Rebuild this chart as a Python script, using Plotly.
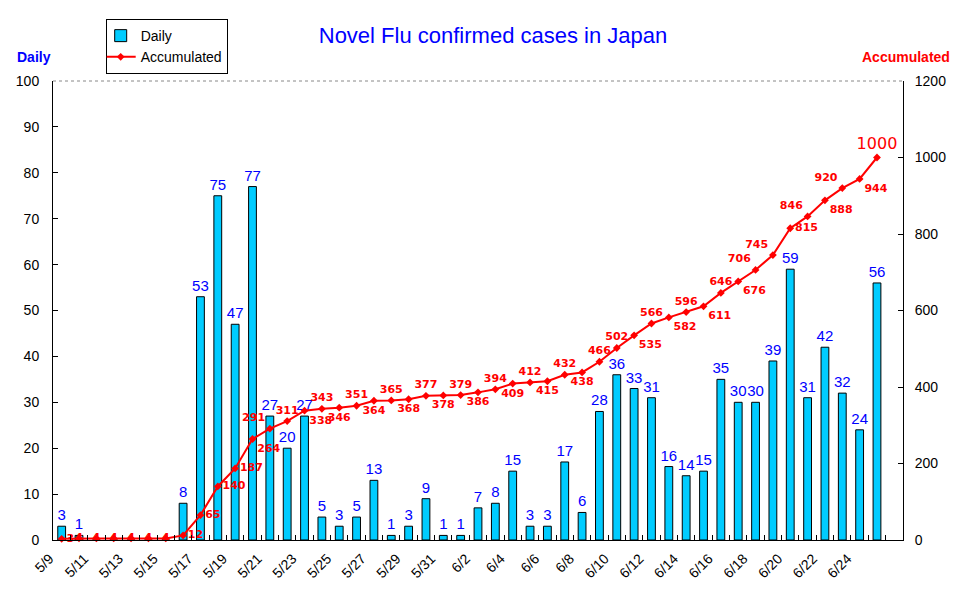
import plotly.graph_objects as go

dates = ["5/9", "5/10", "5/11", "5/12", "5/13", "5/14", "5/15", "5/16", "5/17", "5/18",
         "5/19", "5/20", "5/21", "5/22", "5/23", "5/24", "5/25", "5/26", "5/27", "5/28",
         "5/29", "5/30", "5/31", "6/1", "6/2", "6/3", "6/4", "6/5", "6/6", "6/7",
         "6/8", "6/9", "6/10", "6/11", "6/12", "6/13", "6/14", "6/15", "6/16", "6/17",
         "6/18", "6/19", "6/20", "6/21", "6/22", "6/23", "6/24", "6/25"]

daily = [3, 1, 0, 0, 0, 0, 0, 8, 53, 75,
         47, 77, 27, 20, 27, 5, 3, 5, 13, 1,
         3, 9, 1, 1, 7, 8, 15, 3, 3, 17,
         6, 28, 36, 33, 31, 16, 14, 15, 35, 30,
         30, 39, 59, 31, 42, 32, 24, 56]

accumulated = [3, 4, 4, 4, 4, 4, 4, 12, 65, 140,
               187, 264, 291, 311, 338, 343, 346, 351, 364, 365,
               368, 377, 378, 379, 386, 394, 409, 412, 415, 432,
               438, 466, 502, 535, 566, 582, 596, 611, 646, 676,
               706, 745, 815, 846, 888, 920, 944, 1000]

acc_pos = (["middle right"] + ["middle center"] * 6 +
           ["middle right", "middle right", "middle right", "middle right", "bottom right",
            "top left", "top center", "bottom right"] +
           ["top center", "bottom center"] * 8 +
           ["top center", "top center", "bottom right", "top center", "bottom right",
            "top center", "bottom right", "top center", "bottom right", "top left",
            "top left", "middle right", "top left", "bottom right", "top left",
            "bottom right", "top center"])

FONT = "Liberation Sans, Arial, sans-serif"

fig = go.Figure()
fig.add_trace(go.Bar(
    x=dates, y=daily, name="Daily",
    marker=dict(color="#00CCFF", line=dict(color="black", width=1)),
    width=0.45,
    text=[str(v) if v else "" for v in daily],
    textposition="outside",
    constraintext="none",
    textfont=dict(color="#0000FF", size=15, family=FONT),
    cliponaxis=False,
))
acc_sizes = [11] * (len(accumulated) - 1) + [16]
fig.add_trace(go.Scatter(
    x=dates, y=accumulated, name="Accumulated", yaxis="y2",
    mode="lines+markers+text",
    line=dict(color="#FF0000", width=2),
    marker=dict(symbol="diamond", size=6, color="#FF0000"),
    text=[str(v) for v in accumulated],
    textposition=acc_pos,
    textfont=dict(color="#FF0000", size=acc_sizes, family="DejaVu Sans, sans-serif",
                  weight=[700] * (len(accumulated) - 1) + [400]),
    cliponaxis=False,
))

fig.update_layout(
    width=970, height=604,
    margin=dict(l=45, r=75, t=73, b=72, autoexpand=False),
    paper_bgcolor="white", plot_bgcolor="white",
    font=dict(family=FONT, size=14, color="black"),
    showlegend=True,
    legend=dict(x=0.062, y=1.135, xanchor="left", yanchor="top",
                bordercolor="black", borderwidth=1, bgcolor="white",
                font=dict(size=14, family=FONT), tracegroupgap=0,
                itemwidth=30, indentation=-6),
    title=dict(text="Novel Flu confirmed cases in Japan", x=0.5, xanchor="center",
               y=0.955, yanchor="middle",
               font=dict(color="#0000FF", size=22, family=FONT)),
    xaxis=dict(
        type="category",
        range=[-0.5, 48.5],
        tickvals=dates,
        ticktext=[d if i % 2 == 0 else "" for i, d in enumerate(dates)],
        tickson="boundaries",
        ticks="inside", ticklen=5, tickcolor="black",
        tickangle=-45,
        ticklabelshift=-12,
        ticklabelstandoff=4,
        showline=True, linecolor="black", linewidth=1,
        showgrid=False, zeroline=False, automargin=False,
        tickfont=dict(size=14),
    ),
    yaxis=dict(
        range=[0, 100], dtick=10,
        ticks="inside", ticklen=5, tickcolor="black",
        showline=True, linecolor="black", linewidth=1,
        showgrid=False, zeroline=False, automargin=False,
        ticklabelstandoff=10,
        tickfont=dict(size=14),
    ),
    yaxis2=dict(
        range=[0, 1200], dtick=200, overlaying="y", side="right",
        ticks="inside", ticklen=5, tickcolor="black",
        showline=True, linecolor="black", linewidth=1,
        showgrid=False, zeroline=False, automargin=False,
        ticklabelstandoff=8,
        tickfont=dict(size=14),
    ),
    bargap=0.5,
    shapes=[dict(type="line", xref="paper", yref="paper", x0=0, x1=1, y0=1, y1=1,
                 line=dict(color="#888888", width=1, dash="dot"))],
    annotations=[
        dict(text="<b>Daily</b>", xref="paper", yref="paper", x=-0.0447, y=1.052,
             xanchor="left", yanchor="middle", showarrow=False,
             font=dict(color="#0000FF", size=14, family=FONT)),
        dict(text="<b>Accumulated</b>", xref="paper", yref="paper", x=1.0035, y=1.052,
             xanchor="center", yanchor="middle", showarrow=False,
             font=dict(color="#FF0000", size=14, family=FONT)),
    ],
)

fig.write_html("out.html")
